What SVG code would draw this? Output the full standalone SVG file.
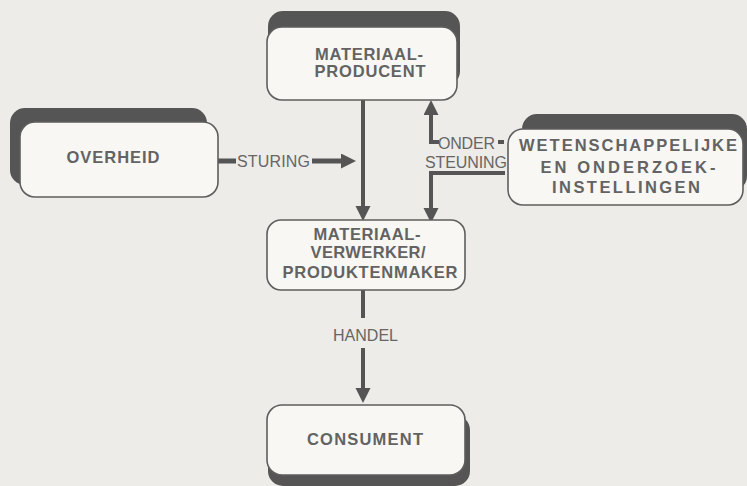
<svg xmlns="http://www.w3.org/2000/svg" width="747" height="486" viewBox="0 0 747 486">
<style>
.bg{fill:#edece8}
.sh{fill:#555}
.box{fill:#f8f7f3;stroke:#5e5e5e;stroke-width:1.6}
.t{font-family:"Liberation Sans",Arial,sans-serif;font-weight:bold;font-size:16.5px;fill:#636363;text-anchor:middle}
.l{font-family:"Liberation Sans",Arial,sans-serif;font-size:16px;fill:#666}
.c{fill:none;stroke:#555;stroke-width:4}
.cw{fill:none;stroke:#555;stroke-width:5}
</style>
<defs>
<marker id="ah" markerUnits="userSpaceOnUse" markerWidth="16" markerHeight="16" refX="0" refY="7.5" orient="auto" viewBox="0 0 16 16">
<path d="M0,0 L15,7.5 L0,15 z" fill="#555"/>
</marker>
</defs>
<rect class="bg" x="0" y="0" width="747" height="486"/>

<g id="connectors">
<path class="c" d="M363,100 V206" marker-end="url(#ah)"/>
<path class="cw" d="M218,161 H236"/>
<text class="l" x="237" y="167" textLength="73" lengthAdjust="spacing">STURING</text>
<path class="cw" d="M312,161 H341" marker-end="url(#ah)"/>
<path class="c" d="M439,142 H431 V115" marker-end="url(#ah)"/>
<path class="c" d="M498,142 H504"/>
<text class="l" x="438" y="149" textLength="57" lengthAdjust="spacing">ONDER</text>
<text class="l" x="425" y="168" textLength="82" lengthAdjust="spacing">STEUNING</text>
<path class="c" d="M505,173 H431 V208" marker-end="url(#ah)"/>
<path class="c" d="M363,290 V318"/>
<text class="l" x="333" y="341" textLength="65" lengthAdjust="spacing">HANDEL</text>
<path class="c" d="M363,348 V388" marker-end="url(#ah)"/>
</g>

<g id="materiaalproducent">
<rect class="sh" x="268" y="11" width="192" height="75" rx="15"/>
<rect class="box" x="267" y="27" width="190" height="73" rx="15"/>
<text class="t" x="369" y="60" textLength="108" lengthAdjust="spacing">MATERIAAL-</text>
<text class="t" x="370" y="77" textLength="111" lengthAdjust="spacing">PRODUCENT</text>
</g>

<g id="overheid">
<rect class="sh" x="10" y="108" width="197" height="77" rx="15"/>
<rect class="box" x="20" y="122" width="198" height="75" rx="15"/>
<text class="t" x="113" y="163" textLength="93" lengthAdjust="spacing">OVERHEID</text>
</g>

<g id="wetenschap">
<rect class="sh" x="522" y="114" width="225" height="77" rx="15"/>
<rect class="box" x="508" y="129" width="235" height="76" rx="15"/>
<text class="t" x="628" y="151" textLength="218" lengthAdjust="spacing">WETENSCHAPPELIJKE</text>
<text class="t" x="628" y="173" textLength="175" lengthAdjust="spacing">EN  ONDERZOEK-</text>
<text class="t" x="626" y="193" textLength="148" lengthAdjust="spacing">INSTELLINGEN</text>
</g>

<g id="verwerker">
<rect class="box" x="267" y="220" width="198" height="70" rx="14"/>
<text class="t" x="367" y="240" textLength="107" lengthAdjust="spacing">MATERIAAL-</text>
<text class="t" x="368" y="258" textLength="115" lengthAdjust="spacing">VERWERKER/</text>
<text class="t" x="370" y="278" textLength="175" lengthAdjust="spacing">PRODUKTENMAKER</text>
</g>

<g id="consument">
<rect class="sh" x="268" y="415" width="202" height="71" rx="15"/>
<rect class="box" x="267" y="405" width="198" height="70" rx="15"/>
<text class="t" x="365" y="445" textLength="116" lengthAdjust="spacing">CONSUMENT</text>
</g>
</svg>
